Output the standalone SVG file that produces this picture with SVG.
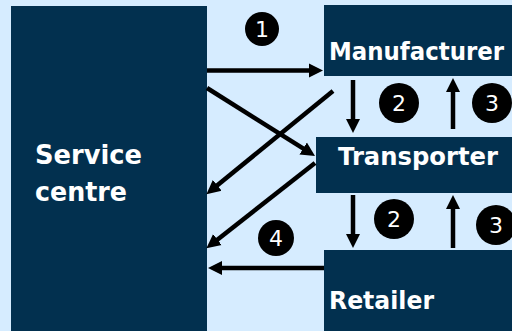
<svg xmlns="http://www.w3.org/2000/svg" width="512" height="331" viewBox="0 0 512 331">
<style>
.box{fill:#02304F}
.lbl{font-family:"DejaVu Sans","Liberation Sans",sans-serif;font-weight:bold;fill:#ffffff;font-size:24px}
.conn{stroke:#000;stroke-width:4.5;fill:none;marker-end:url(#ah)}
.num{fill:#000}
.numt{font-family:"DejaVu Sans","Liberation Sans",sans-serif;fill:#fff;font-size:22px;text-anchor:middle}
</style>
<defs>
<marker id="ah" markerUnits="userSpaceOnUse" markerWidth="15" markerHeight="15" viewBox="0 0 15 15" refX="5" refY="7.5" orient="auto">
<path d="M0,0.5 L14,7.5 L0,14.5 Z" fill="#000"/>
</marker>
</defs>
<rect width="512" height="331" fill="#D6ECFF"/>
<g id="service-centre">
<rect class="box" x="11" y="6" width="196" height="325"/>
<text class="lbl" x="35" y="164" style="font-size:26px" textLength="107" lengthAdjust="spacingAndGlyphs">Service</text>
<text class="lbl" x="35" y="201" style="font-size:26px" textLength="92" lengthAdjust="spacingAndGlyphs">centre</text>
</g>
<g id="manufacturer">
<rect class="box" x="324" y="5" width="188" height="71"/>
<text class="lbl" x="329" y="60" textLength="175" lengthAdjust="spacingAndGlyphs">Manufacturer</text>
</g>
<g id="transporter">
<rect class="box" x="316" y="137" width="196" height="56"/>
<text class="lbl" x="338" y="165" textLength="160" lengthAdjust="spacingAndGlyphs">Transporter</text>
</g>
<g id="retailer">
<rect class="box" x="324" y="250" width="188" height="81"/>
<text class="lbl" x="329" y="309" textLength="105" lengthAdjust="spacingAndGlyphs">Retailer</text>
</g>
<g id="connectors">
<path class="conn" d="M207,70.5 H314"/>
<path class="conn" d="M207,88 L307.4,151.2"/>
<path class="conn" d="M333,91 L213.4,188.5"/>
<path class="conn" d="M315,163 L213.5,242.7"/>
<path class="conn" d="M324,268 H217"/>
<path class="conn" d="M353,80 V124"/>
<path class="conn" d="M453,129 V87"/>
<path class="conn" d="M353,195 V239"/>
<path class="conn" d="M453,248 V204"/>
</g>
<g id="step-labels">
<circle class="num" cx="262" cy="29" r="17"/><text class="numt" x="262" y="37">1</text>
<circle class="num" cx="399" cy="103" r="20"/><text class="numt" x="399" y="111">2</text>
<circle class="num" cx="492" cy="103" r="20"/><text class="numt" x="492" y="111">3</text>
<circle class="num" cx="394" cy="219" r="20"/><text class="numt" x="394" y="227">2</text>
<circle class="num" cx="496" cy="225" r="20"/><text class="numt" x="496" y="233">3</text>
<circle class="num" cx="276" cy="238" r="18"/><text class="numt" x="276" y="246">4</text>
</g>
</svg>
